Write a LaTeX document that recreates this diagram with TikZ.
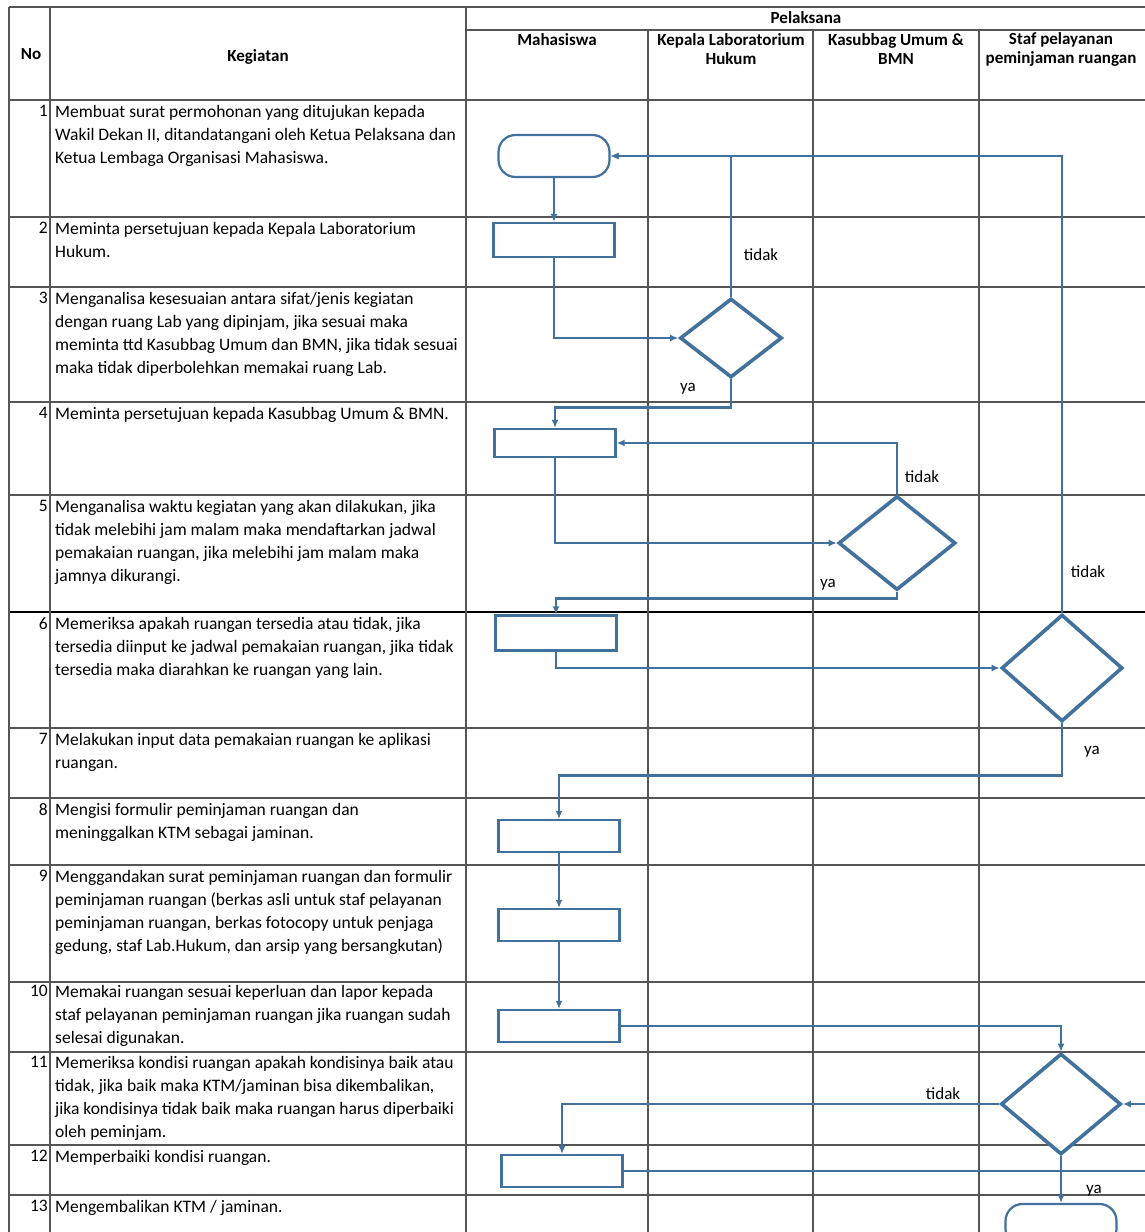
\documentclass[tikz,border=0pt]{standalone}
\usepackage{fontspec}
\setmainfont{Carlito}
\usetikzlibrary{shapes.geometric,arrows.meta}
\definecolor{flow}{RGB}{65,113,156}
\definecolor{gridc}{RGB}{85,85,85}
\begin{document}
\begin{tikzpicture}[x=1pt,y=-1pt,
  tline/.style={gridc, line width=1.5pt},
  flowline/.style={flow, line width=2.8pt, -{Latex[length=8pt,width=7pt]}},
  procbox/.style={rectangle, draw=flow, line width=2.2pt, fill=white, minimum width=121pt, minimum height=32pt, inner sep=0},
  decbox/.style={diamond, draw=flow, line width=3.6pt, fill=white, inner sep=0},
  termbox/.style={rectangle, draw=flow, line width=2.2pt, fill=white, rounded corners=17pt, minimum width=111pt, minimum height=42pt, inner sep=0},
  lbl/.style={font=\fontsize{17}{20}\selectfont, text=black, inner sep=0},
  txt/.style={anchor=north west, align=left, inner sep=0, text=black, font=\fontsize{17.5}{23}\selectfont},
  num/.style={anchor=north east, inner sep=0, text=black, font=\fontsize{17.5}{23}\selectfont},
  hdr/.style={align=center, inner sep=0, text=black, font=\bfseries\fontsize{17}{19}\selectfont}]
\useasboundingbox (0,0) rectangle (1144,1232);
\fill[white] (0,0) rectangle (1144,1232);

% ---- table grid ----
\foreach \yy in {7,100,217,287,402,495,728,798,865,982,1052,1145,1195}
  \draw[tline] (9,\yy) -- (1150,\yy);
\draw[black, line width=2pt] (9,612) -- (1150,612);
\draw[tline] (466,30) -- (1150,30);
\foreach \xx in {9,50,466}
  \draw[tline] (\xx,7) -- (\xx,1240);
\foreach \xx in {648,813,979,1148}
  \draw[tline] (\xx,30) -- (\xx,1240);

% ---- header ----
\node[hdr] (hno) at (31,54) {No};
\node[hdr] (hkeg) at (258,57) {Kegiatan};
\node[hdr] (hpel) at (806,18) {Pelaksana};
\node[hdr] (hmhs) at (557,40) {Mahasiswa};
\node[hdr] (hkep) at (731,49) {Kepala Laboratorium\\Hukum};
\node[hdr] (hkas) at (896,49) {Kasubbag Umum \&\\BMN};
\node[hdr] (hstf) at (1061,49) {Staf pelayanan\\peminjaman ruangan};

% ---- activity texts ----
\node[num] (n1) at (48,105) {1};
\node[txt] (t1) at (55,105) {Membuat surat permohonan yang ditujukan kepada\\Wakil Dekan II, ditandatangani oleh Ketua Pelaksana dan\\Ketua Lembaga Organisasi Mahasiswa.};
\node[num] (n2) at (48,222) {2};
\node[txt] (t2) at (55,222) {Meminta persetujuan kepada Kepala Laboratorium\\Hukum.};
\node[num] (n3) at (48,292) {3};
\node[txt] (t3) at (55,292) {Menganalisa kesesuaian antara sifat/jenis kegiatan\\dengan ruang Lab yang dipinjam, jika sesuai maka\\meminta ttd Kasubbag Umum dan BMN, jika tidak sesuai\\maka tidak diperbolehkan memakai ruang Lab.};
\node[num] (n4) at (48,407) {4};
\node[txt] (t4) at (55,407) {Meminta persetujuan kepada Kasubbag Umum \& BMN.};
\node[num] (n5) at (48,500) {5};
\node[txt] (t5) at (55,500) {Menganalisa waktu kegiatan yang akan dilakukan, jika\\tidak melebihi jam malam maka mendaftarkan jadwal\\pemakaian ruangan, jika melebihi jam malam maka\\jamnya dikurangi.};
\node[num] (n6) at (48,617) {6};
\node[txt] (t6) at (55,617) {Memeriksa apakah ruangan tersedia atau tidak, jika\\tersedia diinput ke jadwal pemakaian ruangan, jika tidak\\tersedia maka diarahkan ke ruangan yang lain.};
\node[num] (n7) at (48,733) {7};
\node[txt] (t7) at (55,733) {Melakukan input data pemakaian ruangan ke aplikasi\\ruangan.};
\node[num] (n8) at (48,803) {8};
\node[txt] (t8) at (55,803) {Mengisi formulir peminjaman ruangan dan\\meninggalkan KTM sebagai jaminan.};
\node[num] (n9) at (48,870) {9};
\node[txt] (t9) at (55,870) {Menggandakan surat peminjaman ruangan dan formulir\\peminjaman ruangan (berkas asli untuk staf pelayanan\\peminjaman ruangan, berkas fotocopy untuk penjaga\\gedung, staf Lab.Hukum, dan arsip yang bersangkutan)};
\node[num] (n10) at (48,985) {10};
\node[txt] (t10) at (55,985) {Memakai ruangan sesuai keperluan dan lapor kepada\\staf pelayanan peminjaman ruangan jika ruangan sudah\\selesai digunakan.};
\node[num] (n11) at (48,1056) {11};
\node[txt] (t11) at (55,1056) {Memeriksa kondisi ruangan apakah kondisinya baik atau\\tidak, jika baik maka KTM/jaminan bisa dikembalikan,\\jika kondisinya tidak baik maka ruangan harus diperbaiki\\oleh peminjam.};
\node[num] (n12) at (48,1150) {12};
\node[txt] (t12) at (55,1150) {Memperbaiki kondisi ruangan.};
\node[num] (n13) at (48,1200) {13};
\node[txt] (t13) at (55,1200) {Mengembalikan KTM / jaminan.};

% ---- flow shapes ----
\node[termbox] (start) at (554,156) {};
\node[procbox, minimum height=34pt] (b2) at (554,240) {};
\node[decbox, minimum width=102pt, minimum height=79pt] (d3) at (731,338) {};
\node[procbox, minimum height=28pt] (b4) at (555,443) {};
\node[decbox, minimum width=117pt, minimum height=94pt] (d5) at (897,543) {};
\node[procbox, minimum height=35pt] (b6) at (556,633) {};
\node[decbox, minimum width=121pt, minimum height=107pt] (d6) at (1062,668) {};
\node[procbox] (b8) at (559,836) {};
\node[procbox] (b9) at (559,925) {};
\node[procbox] (b10) at (559,1026) {};
\node[decbox, minimum width=120pt, minimum height=101pt] (d11) at (1061,1104) {};
\node[procbox] (b12) at (562,1171) {};
\node[termbox] (end) at (1061,1225) {};
\coordinate (ret) at (1156,1171);

% ---- connectors ----
\draw[flowline] (start.south) -- (b2.north);
\draw[flowline] (b2.south) |- (d3.west);
\draw[flowline] (d3.north) |- (start.east);
\draw[flowline] (d6.north) |- (start.east);
\draw[flowline] (d3.south) -- ++(0,28) -| (b4.north);
\draw[flowline] (b4.south) |- (d5.west);
\draw[flowline] (d5.north) |- (b4.east);
\draw[flowline] (d5.south) -- ++(0,7) -| (b6.north);
\draw[flowline] (b6.south) |- (d6.west);
\draw[flowline] (d6.south) -- ++(0,52) -| (b8.north);
\draw[flowline] (b8.south) -- (b9.north);
\draw[flowline] (b9.south) -- (b10.north);
\draw[flowline] (b10.east) -| (d11.north);
\draw[flowline] (d11.west) -| (b12.north);
\draw[flowline] (b12.east) -- (ret) |- (d11.east);
\draw[flowline] (d11.south) -- (end.north);

% ---- labels ----
\node[lbl] (l1) at (761,255) {tidak};
\node[lbl] (l2) at (688,389) {ya};
\node[lbl] (l3) at (922,477) {tidak};
\node[lbl] (l4) at (828,585) {ya};
\node[lbl] (l5) at (1088,572) {tidak};
\node[lbl] (l6) at (1092,752) {ya};
\node[lbl] (l7) at (943,1094) {tidak};
\node[lbl] (l8) at (1094,1191) {ya};
\end{tikzpicture}
\end{document}
